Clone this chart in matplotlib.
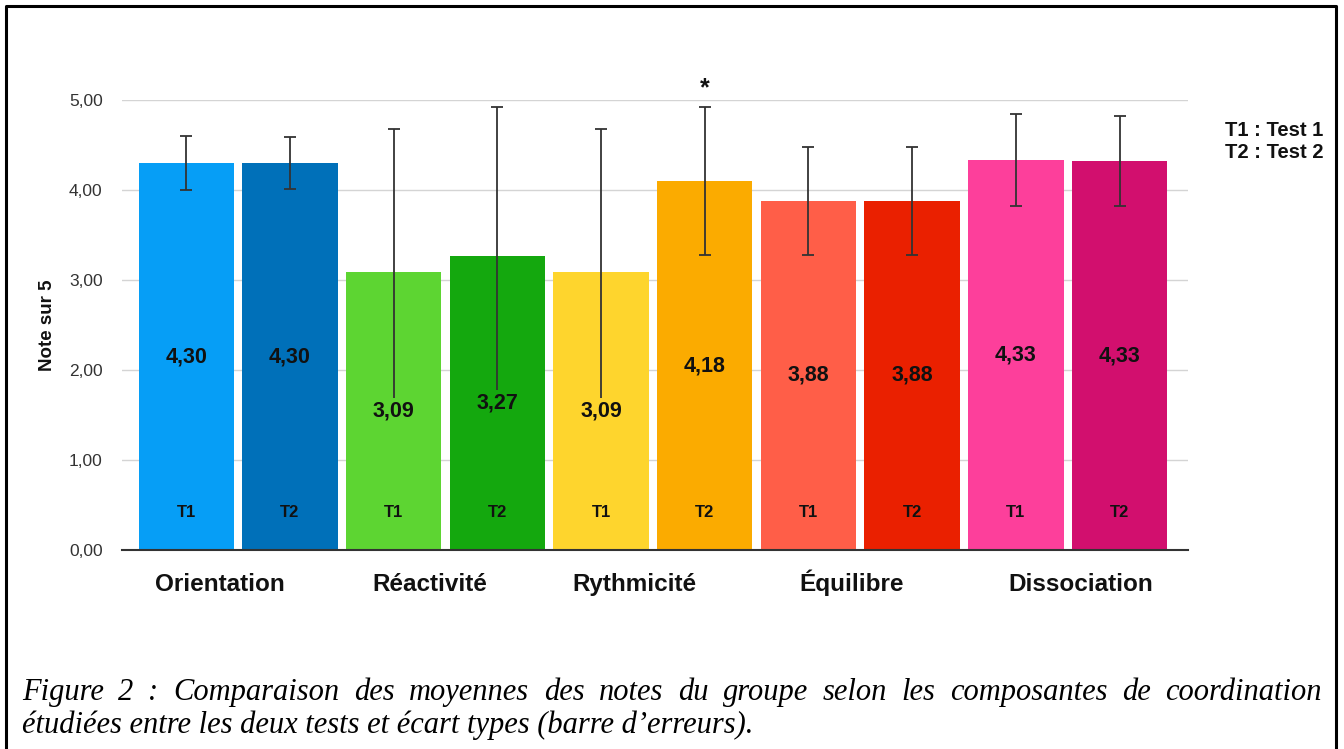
import matplotlib.pyplot as plt
import numpy as np
from matplotlib.lines import Line2D
from matplotlib.transforms import blended_transform_factory

plt.rcParams["font.family"] = ["Liberation Sans", "DejaVu Sans"]

W, H = 1344, 749

# data
categories = ["Orientation", "Réactivité", "Rythmicité", "Équilibre", "Dissociation"]
tests = ["T1", "T2"] * 5
means = [4.30, 4.30, 3.09, 3.27, 3.09, 4.10, 3.88, 3.88, 4.33, 4.32]
std_dev = [0.30, 0.29, 1.59, 1.65, 1.59, 0.82, 0.60, 0.60, 0.51, 0.50]
value_labels = ["4,30", "4,30", "3,09", "3,27", "3,09", "4,18", "3,88", "3,88", "4,33", "4,33"]
colors = ["#069ef6", "#0070b9", "#5dd532", "#14a80e", "#fed52d",
          "#fbab00", "#ff5e48", "#ea2000", "#fd3f9b", "#d20f6e"]
yticks = [0, 1, 2, 3, 4, 5]
signif_bar = 5
caption_1 = ("Figure 2 : Comparaison des moyennes des notes du groupe selon "
             "les composantes de coordination")
caption_2 = "étudiées entre les deux tests et écart types (barre d’erreurs)."

fig = plt.figure(figsize=(W / 100, H / 100), dpi=100)
ax = fig.add_axes([122 / W, 1 - 550 / H, (1188 - 122) / W, 450 / H])

x = np.arange(len(means))
ax.bar(x, means, width=0.92, color=colors, zorder=2)
ax.errorbar(x, means, yerr=std_dev, fmt="none", ecolor="#333333",
            elinewidth=1.3, capsize=4, capthick=1.3, zorder=3)

for xi, m, lab, c, t in zip(x, means, value_labels, colors, tests):
    ax.text(xi, m / 2, lab, ha="center", va="center", fontsize=15.5,
            fontweight="bold", color="#111111", zorder=4,
            bbox=dict(facecolor=c, edgecolor="none", pad=1.5))
    ax.text(xi, 0.42, t, ha="center", va="center", fontsize=12,
            fontweight="bold", color="#111111", zorder=4)

ax.text(signif_bar, 5.13, "*", ha="center", va="center", fontsize=18,
        fontweight="bold", color="#111111", clip_on=False)

ax.set_xlim(-0.62, 9.66)
ax.set_ylim(0, 5)
ax.set_yticks(yticks)
ax.set_yticklabels([f"{v:.2f}".replace(".", ",") for v in yticks],
                   fontsize=12.5, color="#333333")
ax.set_xticks([])
ax.tick_params(axis="both", length=0)
ax.tick_params(axis="y", pad=14)
ax.grid(axis="y", color="#d4d4d4", linewidth=1, zorder=0)
for side in ["top", "left", "right"]:
    ax.spines[side].set_visible(False)
ax.spines["bottom"].set_color("#333333")
ax.spines["bottom"].set_linewidth(1.5)
ax.spines["bottom"].set_zorder(5)

# category names, all on one baseline
trans = blended_transform_factory(ax.transData, fig.transFigure)
for xc, name in zip([0.32, 2.35, 4.32, 6.42, 8.63], categories):
    ax.text(xc, 1 - 591 / H, name, transform=trans, ha="center", va="baseline",
            fontsize=17.5, fontweight="bold", color="#111111")

fig.text(47 / W, 1 - 325 / H, "Note sur 5", rotation=90, ha="center",
         va="center", fontsize=13.5, fontweight="bold", color="#111111")
fig.text(1225 / W, 1 - 130 / H, "T1 : Test 1", ha="left", va="center",
         fontsize=14.5, fontweight="bold", color="#111111")
fig.text(1225 / W, 1 - 153 / H, "T2 : Test 2", ha="left", va="center",
         fontsize=14.5, fontweight="bold", color="#111111")

# caption: first line justified over the box width, second line flush left
cap_kw = dict(family="Liberation Serif", style="italic", fontsize=22,
              color="black", va="baseline")
renderer = fig.canvas.get_renderer()
words = caption_1.split(" ")
word_texts = [fig.text(0, 1 - 700 / H, w, ha="left", **cap_kw) for w in words]
widths = [t.get_window_extent(renderer).width for t in word_texts]
left_px, right_px = 22, 1322
gap = (right_px - left_px - sum(widths)) / (len(words) - 1)
pos = left_px
for t, w in zip(word_texts, widths):
    t.set_x(pos / W)
    pos += w + gap
fig.text(left_px / W, 1 - 733 / H, caption_2, ha="left", **cap_kw)

# frame around the figure
fig.add_artist(Line2D([6 / W, 6 / W, 1336 / W, 1336 / W], [0, 1 - 6 / H, 1 - 6 / H, 0],
                      color="black", linewidth=2.2, transform=fig.transFigure))

fig.savefig("out.png", dpi=100)
